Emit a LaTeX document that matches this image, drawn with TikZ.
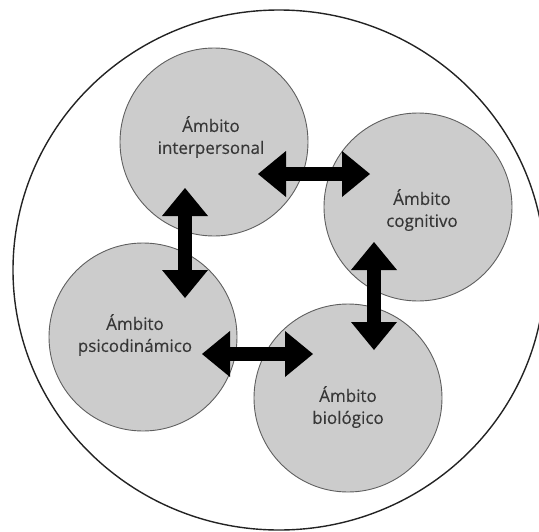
\documentclass[tikz,border=0pt]{standalone}
\usepackage{fontspec}
\setmainfont{Open Sans}
\newfontfamily\lblfont[FakeBold=0.35]{Open Sans}
\usetikzlibrary{arrows.meta}
\definecolor{circfill}{RGB}{204,204,204}
\definecolor{circline}{RGB}{95,95,95}
\definecolor{outerline}{RGB}{35,35,35}
\definecolor{txtcol}{RGB}{55,55,55}
\tikzset{
  outerring/.style={draw=outerline, line width=1.4pt},
  ambit/.style={circle, draw=circline, fill=circfill, line width=0.9pt, minimum size=188pt, inner sep=0pt},
  lbl/.style={align=center, text=txtcol, font=\lblfont\fontsize{17}{22}\selectfont, inner sep=0pt},
  bigarrow/.style={line width=14pt, draw=black,
    {Triangle[length=28pt,width=46pt,line width=0pt]}-{Triangle[length=28pt,width=46pt,line width=0pt]}}
}
\begin{document}
\begin{tikzpicture}[x=1pt,y=-1pt]
\useasboundingbox (0,0) rectangle (539,531);
\clip (0,0) rectangle (539,531);
\draw[outerring] (279,270) ellipse [x radius=266pt, y radius=260pt];
% circles
\node[ambit] (ip) at (214,142) {};
\node[ambit] (cg) at (418,207) {};
\node[ambit] (ps) at (143,337) {};
\node[ambit] (bi) at (348,398) {};
% labels
\node[lbl] (ipt) at (211,137) {Ámbito\\interpersonal};
\node[lbl] (cgt) at (422,210) {Ámbito\\cognitivo};
\node[lbl] (pst) at (135,335) {Ámbito\\psicodinámico};
\node[lbl] (bit) at (348,407) {Ámbito\\biológico};
% arrow end points
\coordinate (a1) at (258,174);
\coordinate (a2) at (370,174);
\coordinate (b1) at (185,188);
\coordinate (b2) at (185,298);
\coordinate (c1) at (374,242);
\coordinate (c2) at (374,350);
\coordinate (d1) at (202,354);
\coordinate (d2) at (313,354);
\draw[bigarrow] (a1) -- (a2);
\draw[bigarrow] (b1) -- (b2);
\draw[bigarrow] (c1) -- (c2);
\draw[bigarrow] (d1) -- (d2);
\end{tikzpicture}
\end{document}
